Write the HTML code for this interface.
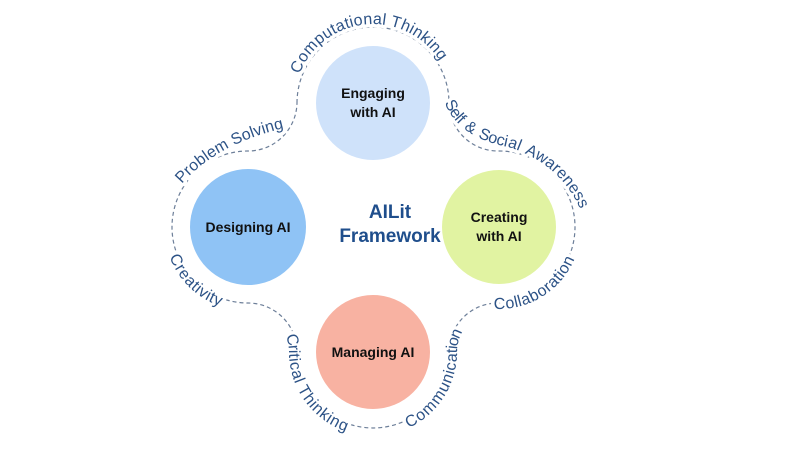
<!DOCTYPE html>
<html><head><meta charset="utf-8"><style>
html,body{margin:0;padding:0;background:#fff;}
svg{display:block;}
.h{font-family:"Liberation Sans",sans-serif;font-size:16px;fill:#fff;stroke:#fff;stroke-width:7;stroke-linejoin:round;}
.l{font-family:"Liberation Sans",sans-serif;font-size:16px;fill:#2c5286;}
.n{font-family:"Liberation Sans",sans-serif;font-size:14px;font-weight:bold;fill:#111;text-anchor:middle;}
</style></head><body>
<svg width="800" height="450" viewBox="0 0 800 450">
<defs>
<path id="f" d="M297,103 A76,76 0 0 1 449,103 A49,49 0 0 0 499,151 A76,76 0 0 1 499,303 A49,49 0 0 0 449,352 A76,76 0 0 1 297,352 A49,49 0 0 0 248,303 A76,76 0 0 1 248,151 A49,49 0 0 0 297,103 A76,76 0 0 1 449,103"/>
<path id="r" d="M297,103 A49,49 0 0 1 248,151 A76,76 0 0 0 248,303 A49,49 0 0 1 297,352 A76,76 0 0 0 449,352 A49,49 0 0 1 499,303 A76,76 0 0 0 499,151 A49,49 0 0 1 449,103 A76,76 0 0 0 297,103"/>
<path id="ps" d="M184,186 Q222,142 300,128"/>
<path id="ss" d="M442,104 Q456,140 508,150 C542,161 566,182 579,214"/>
<g id="labels">
<text dy="-3"><textPath href="#f" startOffset="112" text-anchor="middle">Computational Thinking</textPath></text>
<text dy="-3" word-spacing="2"><textPath href="#ss" startOffset="0">Self &amp; Social Awareness</textPath></text>
<text dy="-3"><textPath href="#ps" startOffset="0">Problem Solving</textPath></text>
<text dy="8"><textPath href="#r" startOffset="222">Creativity</textPath></text>
<text dy="8"><textPath href="#r" startOffset="372">Critical Thinking</textPath></text>
<text dy="8"><textPath href="#r" startOffset="543">Communication</textPath></text>
<text dy="6"><textPath href="#r" startOffset="702">Collaboration</textPath></text>
</g>
</defs>
<path d="M297,103 A76,76 0 0 1 449,103 A49,49 0 0 0 499,151 A76,76 0 0 1 499,303 A49,49 0 0 0 449,352 A76,76 0 0 1 297,352 A49,49 0 0 0 248,303 A76,76 0 0 1 248,151 A49,49 0 0 0 297,103 Z" fill="none" stroke="#6d7f99" stroke-width="1.2" stroke-dasharray="4 3"/>
<use href="#labels" class="h"/>
<use href="#labels" class="l"/>
<circle cx="373" cy="103" r="57" fill="#cfe2fa"/>
<circle cx="248" cy="227" r="58" fill="#8fc3f5"/>
<circle cx="499" cy="227" r="57" fill="#e1f3a2"/>
<circle cx="373" cy="352" r="57" fill="#f8b2a2"/>
<text class="n" x="373" y="98">Engaging</text>
<text class="n" x="373" y="117">with AI</text>
<text class="n" x="248" y="232">Designing AI</text>
<text class="n" x="499" y="222">Creating</text>
<text class="n" x="499" y="241">with AI</text>
<text class="n" x="373" y="357">Managing AI</text>
<text x="390" y="218" font-family="Liberation Sans,sans-serif" font-size="19" font-weight="bold" fill="#1f4e8c" text-anchor="middle">AILit</text>
<text x="390" y="242" font-family="Liberation Sans,sans-serif" font-size="19" font-weight="bold" fill="#1f4e8c" text-anchor="middle">Framework</text>
</svg>
</body></html>
